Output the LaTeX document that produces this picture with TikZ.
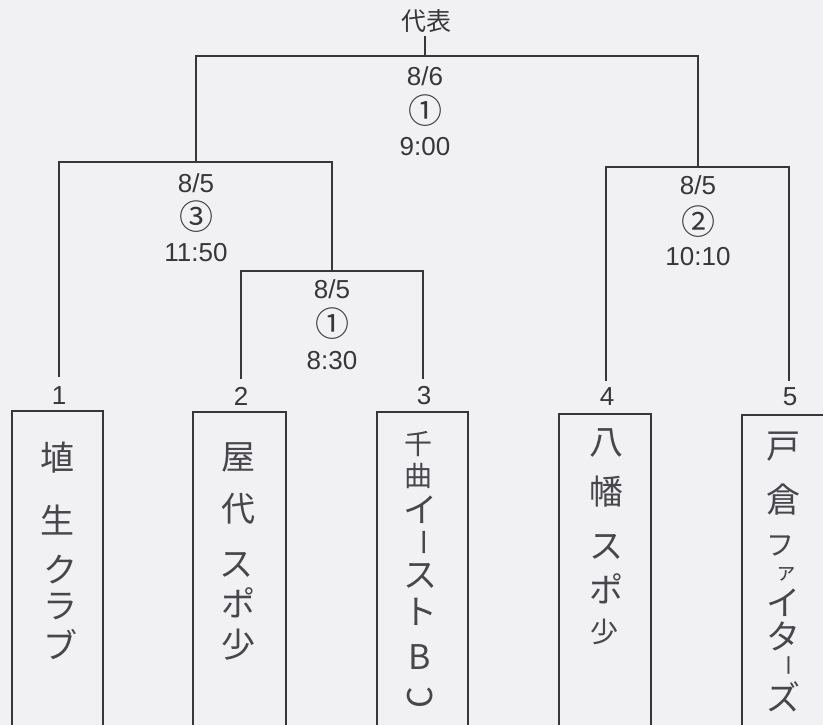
\documentclass[tikz,border=0pt]{standalone}
\usepackage{fontspec}
\setmainfont{Liberation Sans}
\newfontfamily\cjk{Noto Sans CJK JP}
\definecolor{paper}{RGB}{241,241,243}
\definecolor{ink}{RGB}{55,55,58}
\definecolor{pen}{RGB}{70,70,75}
\tikzset{
  bline/.style={draw=ink, line width=2.2pt, line cap=rect},
  teambox/.style={draw=ink, line width=1.6pt},
  info/.style={font=\fontsize{26}{26}\selectfont, text=ink, inner sep=0pt},
  circ/.style={font=\cjk\fontsize{34}{34}\selectfont, text=ink, inner sep=0pt},
  seed/.style={font=\fontsize{26}{26}\selectfont, text=ink, inner sep=0pt},
  hw/.style={font=\cjk\fontsize{34}{34}\selectfont, text=pen, inner sep=0pt},
  hwm/.style={font=\cjk\fontsize{28}{28}\selectfont, text=pen, inner sep=0pt},
  hws/.style={font=\cjk\fontsize{22}{22}\selectfont, text=pen, inner sep=0pt},
}
\begin{document}
\begin{tikzpicture}[x=1pt,y=-1pt]
\useasboundingbox (0,0) rectangle (823,725);
\fill[paper] (0,0) rectangle (823,725);
\clip (0,0) rectangle (823,725);

% winner label
\node[font=\cjk\fontsize{25}{25}\selectfont, text=ink, inner sep=0pt] (rep) at (426,21) {代表};

% junction coordinates
\coordinate (f) at (425,56);
\coordinate (fl) at (196,56);
\coordinate (fr) at (698,56);
\coordinate (sl) at (196,162);
\coordinate (sll) at (59,162);
\coordinate (slr) at (332,162);
\coordinate (sr) at (698,167);
\coordinate (srl) at (606,167);
\coordinate (srr) at (789,167);
\coordinate (q) at (332,271);
\coordinate (ql) at (241,271);
\coordinate (qr) at (423,271);

% seed numbers
\node[seed] (t1) at (59,396) {1};
\node[seed] (t2) at (241,396) {2};
\node[seed] (t3) at (424,396) {3};
\node[seed] (t4) at (607,397) {4};
\node[seed] (t5) at (790,397) {5};

% bracket lines
\draw[bline] (f) -- ++(0,-19);
\draw[bline] (fl) -- (fr);
\draw[bline] (fl) -- (sl);
\draw[bline] (fr) -- (sr);
\draw[bline] (sll) -- (slr);
\draw[bline] (sll) -- (59,376);
\draw[bline] (slr) -- (q);
\draw[bline] (ql) -- (qr);
\draw[bline] (ql) -- (241,378);
\draw[bline] (qr) -- (423,378);
\draw[bline] (srl) -- (srr);
\draw[bline] (srl) -- (606,380);
\draw[bline] (srr) -- (789,380);

% match info
\node[info] (m1d) at (425,76) {8/6};
\node[circ] (m1n) at (425,111) {①};
\node[info] (m1t) at (425,147) {9:00};

\node[info] (m2d) at (196,183) {8/5};
\node[circ] (m2n) at (196,217) {③};
\node[info] (m2t) at (196,253) {11:50};

\node[info] (m3d) at (332,289) {8/5};
\node[circ] (m3n) at (332,324) {①};
\node[info] (m3t) at (332,361) {8:30};

\node[info] (m4d) at (698,185) {8/5};
\node[circ] (m4n) at (698,222) {②};
\node[info] (m4t) at (698,257) {10:10};

% team boxes
\draw[teambox] (12,735) -- (12,411) -- (103,411) -- (103,735);
\draw[teambox] (193,735) -- (193,412) -- (286,412) -- (286,735);
\draw[teambox] (377,735) -- (377,412) -- (468,412) -- (468,735);
\draw[teambox] (559,735) -- (559,414) -- (651,414) -- (651,735);
\draw[teambox] (742,735) -- (742,415) -- (840,415);

% team 1
\node[hw] (a1) at (58,458) {埴};
\node[hw] (a2) at (58,520) {生};
\node[hw] (a3) at (60,570) {ク};
\node[hw] (a4) at (60,607) {ラ};
\node[hw] (a5) at (60,645) {ブ};
% team 2
\node[hw] (b1) at (238,457) {屋};
\node[hw] (b2) at (238,509) {代};
\node[hw] (b3) at (236,565) {ス};
\node[hw] (b4) at (238,603) {ポ};
\node[hw] (b5) at (238,645) {少};
% team 3
\node[hwm] (c1) at (418,444) {千};
\node[hwm] (c2) at (418,476) {曲};
\node[hw] (c3) at (420,510) {イ};
\node[hwm, rotate=-90] (c4) at (420,542) {ー};
\node[hw] (c5) at (420,576) {ス};
\node[hw] (c6) at (420,612) {ト};
\node[hw] (c7) at (420,657) {B};
\node[hw, rotate=90] (c8) at (420,698) {C};
% team 4
\node[hw] (d1) at (606,443) {八};
\node[hw] (d2) at (606,492) {幡};
\node[hw] (d3) at (606,547) {ス};
\node[hw] (d4) at (606,589) {ポ};
\node[hwm] (d5) at (604,632) {少};
% team 5
\node[hw] (e1) at (783,447) {戸};
\node[hw] (e2) at (783,500) {倉};
\node[hwm] (e3) at (780,546) {フ};
\node[hws] (e4) at (786,574) {ァ};
\node[hw] (e5) at (783,603) {イ};
\node[hw] (e6) at (783,636) {タ};
\node[hws, rotate=-90] (e7) at (785,665) {ー};
\node[hw] (e8) at (783,697) {ズ};
\end{tikzpicture}
\end{document}
